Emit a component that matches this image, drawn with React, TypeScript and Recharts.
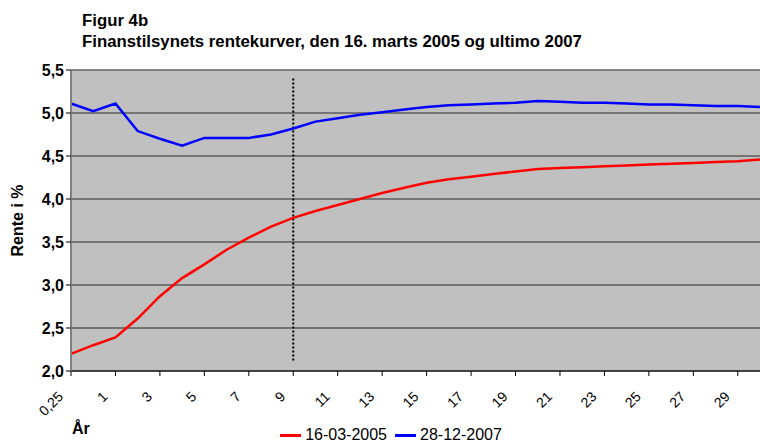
import { LineChart, Line, XAxis, YAxis, CartesianGrid, ReferenceLine, Legend } from 'recharts';

// løbetid i år
const years = [
  '0,25', '0,5', '1', '2', '3', '4', '5', '6', '7', '8', '9', '10', '11', '12', '13', '14',
  '15', '16', '17', '18', '19', '20', '21', '22', '23', '24', '25', '26', '27', '28', '29', '30',
];

// rentekurve 16-03-2005
const rates2005 = [
  2.2, 2.3, 2.39, 2.61, 2.87, 3.08, 3.24, 3.41, 3.55, 3.68, 3.78, 3.86, 3.93, 4.0, 4.07, 4.13,
  4.19, 4.23, 4.26, 4.29, 4.32, 4.35, 4.36, 4.37, 4.38, 4.39, 4.4, 4.41, 4.42, 4.43, 4.44, 4.46,
];

// rentekurve 28-12-2007
const rates2007 = [
  5.11, 5.02, 5.11, 4.79, 4.7, 4.62, 4.71, 4.71, 4.71, 4.75, 4.82, 4.9, 4.94, 4.98, 5.01, 5.04,
  5.07, 5.09, 5.1, 5.11, 5.12, 5.14, 5.13, 5.12, 5.12, 5.11, 5.1, 5.1, 5.09, 5.08, 5.08, 5.07,
];

const yTicks = [2, 2.5, 3, 3.5, 4, 4.5, 5, 5.5];

// stiplet markering ved 9 år
const markerYear = '9';
const markerRange = [5.4, 2.12];

const series = [
  { key: 'r2005', name: '16-03-2005', color: '#FF0000' },
  { key: 'r2007', name: '28-12-2007', color: '#0000FF' },
];

const data = years.map((year, i) => ({ year, r2005: rates2005[i], r2007: rates2007[i] }));

const FONT = "Arial, 'Liberation Sans', sans-serif";

function YearTick({ x, y, payload }: any) {
  return (
    <g transform={`translate(${x - 7},${y + 19.5})`}>
      <text textAnchor="end" transform="rotate(-45)" fontSize={14} fontFamily={FONT} fill="#000">
        {payload.value}
      </text>
    </g>
  );
}

function LegendBox() {
  return (
    <div style={{ display: 'flex', justifyContent: 'center', alignItems: 'center', height: 18, fontFamily: FONT, fontSize: 16, color: '#000', paddingLeft: 30 }}>
      {series.map((s) => (
        <span key={s.key} style={{ display: 'flex', alignItems: 'center', marginRight: 8 }}>
          <span style={{ display: 'inline-block', width: 21, height: 3, background: s.color, marginRight: 4 }} />
          {s.name}
        </span>
      ))}
    </div>
  );
}

export default function App() {
  return (
    <div style={{ position: 'absolute', left: 0, top: 0, width: 760, height: 444, background: '#fff', fontFamily: FONT }}>
      <div style={{ position: 'absolute', left: 82, top: 10, fontSize: 16.8, fontWeight: 'bold', lineHeight: '21px' }}>
        <div>Figur 4b</div>
        <div>Finanstilsynets rentekurver, den 16. marts 2005 og ultimo 2007</div>
      </div>
      <div style={{ position: 'absolute', left: 72, top: 420, fontSize: 16, fontWeight: 'bold' }}>År</div>
      <LineChart width={760} height={444} data={data} margin={{ top: 70, right: 0, bottom: 0, left: 0 }}>
        <CartesianGrid vertical={false} fill="#C0C0C0" stroke="#2a2a2a" strokeOpacity={1} />
        <XAxis
          dataKey="year"
          interval={1}
          height={55}
          tick={<YearTick />}
          tickSize={5}
          axisLine={{ stroke: '#000' }}
          tickLine={{ stroke: '#000' }}
        />
        <YAxis
          width={71}
          domain={[2, 5.5]}
          ticks={yTicks}
          tickSize={5}
          tickFormatter={(v: number) => v.toFixed(1).replace('.', ',')}
          tick={{ fill: '#000', fontSize: 16, fontWeight: 'bold', fontFamily: FONT }}
          axisLine={{ stroke: '#808080', strokeWidth: 2 }}
          tickLine={{ stroke: '#000' }}
          label={{
            value: 'Rente i %',
            angle: -90,
            position: 'insideLeft',
            dx: 12,
            style: { textAnchor: 'middle', fontSize: 16, fontWeight: 'bold', fill: '#000', fontFamily: FONT },
          }}
        />
        <ReferenceLine y={5.5} stroke="#808080" strokeWidth={1.5} />
        <ReferenceLine
          segment={[{ x: markerYear, y: markerRange[0] }, { x: markerYear, y: markerRange[1] }]}
          stroke="#000"
          strokeWidth={2}
          strokeDasharray="2 2"
        />
        {series.map((s) => (
          <Line
            key={s.key}
            dataKey={s.key}
            name={s.name}
            stroke={s.color}
            strokeWidth={2.5}
            dot={false}
            type="linear"
            isAnimationActive={false}
          />
        ))}
        <Legend verticalAlign="bottom" height={18} content={<LegendBox />} />
      </LineChart>
    </div>
  );
}
